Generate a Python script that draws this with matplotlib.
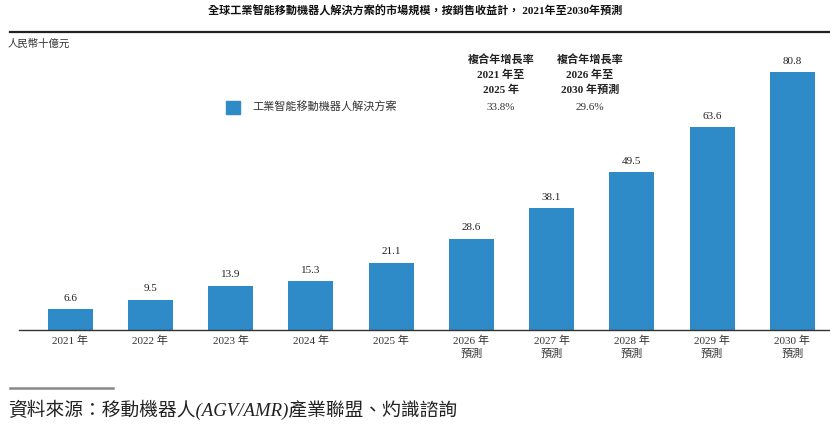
import matplotlib
matplotlib.use("Agg")
import matplotlib.pyplot as plt
from matplotlib.lines import Line2D

plt.rcParams['font.family'] = ['Liberation Serif', 'Noto Sans CJK TC', 'DejaVu Sans']

# data
years = ["2021 年", "2022 年", "2023 年", "2024 年", "2025 年",
         "2026 年\n預測", "2027 年\n預測", "2028 年\n預測", "2029 年\n預測", "2030 年\n預測"]
values = [6.6, 9.5, 13.9, 15.3, 21.1, 28.6, 38.1, 49.5, 63.6, 80.8]
series_name = "工業智能移動機器人解決方案"
cagr_headers = ["複合年增長率\n2021 年至\n2025 年", "複合年增長率\n2026 年至\n2030 年預測"]
cagr_values = ["33.8%", "29.6%"]

bar_color = "#2e8bc8"
W, H = 830, 426

fig = plt.figure(figsize=(W / 100, H / 100), dpi=100)
ax = fig.add_axes([19 / W, 96 / H, 811 / W, 290 / H])

x = list(range(len(values)))
bars = ax.bar(x, values, width=0.56, color=bar_color)
for xi, v in zip(x, values):
    ax.text(xi, v + 2.0, f"{v:.1f}", ha="center", va="bottom", fontsize=8, color="#222222")

ax.set_xlim(-0.636, 9.47)
ax.set_ylim(0, 90.9)
ax.set_xticks(x)
ax.set_xticklabels(years, fontsize=8, color="#333333", linespacing=1.4)
ax.tick_params(axis="x", length=0, pad=4)
ax.set_yticks([])
for s in ["top", "right", "left"]:
    ax.spines[s].set_visible(False)
ax.spines["bottom"].set_color("#333333")
ax.spines["bottom"].set_linewidth(1.0)

# title and rule
fig.text(0.5, 1 - 11 / H, "全球工業智能移動機器人解決方案的市場規模，按銷售收益計， 2021年至2030年預測",
         ha="center", va="center", fontsize=8.0, fontweight="bold", color="#111111")
fig.add_artist(Line2D([10 / W, 1.0], [1 - 32 / H, 1 - 32 / H], color="#222222", lw=1.6))

fig.text(8 / W, 1 - 44 / H, "人民幣十億元", ha="left", va="center", fontsize=7.5,
         style="italic", color="#333333")

# CAGR columns
for cx, head, val in zip([501, 590], cagr_headers, cagr_values):
    fig.text(cx / W, 1 - 54 / H, head, ha="center", va="top", fontsize=8,
             fontweight="bold", color="#222222", linespacing=1.55)
    fig.text(cx / W, 1 - 108 / H, val, ha="center", va="center", fontsize=8, color="#333333")

# legend
fig.patches.append(plt.Rectangle((226 / W, 1 - 114 / H), 14 / W, 13 / H,
                                 transform=fig.transFigure, color=bar_color))
fig.text(252 / W, 1 - 107 / H, series_name, ha="left", va="center", fontsize=8, color="#333333")

# footer
fig.add_artist(Line2D([10 / W, 113 / W], [1 - 388 / H, 1 - 388 / H], color="#888888", lw=1.8))
fig.text(8 / W, 1 - 410 / H, "資料來源：移動機器人(AGV/AMR)產業聯盟、灼識諮詢", ha="left", va="center",
         fontsize=13.5, style="italic", color="#222222")

fig.savefig("out.png", dpi=100)
